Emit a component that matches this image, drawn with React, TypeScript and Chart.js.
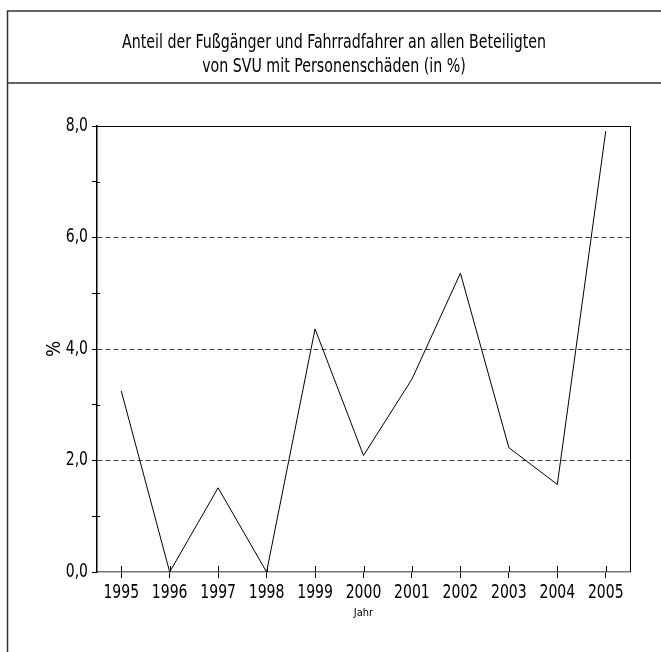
import React, { useEffect, useRef } from "react";
import { Chart, registerables } from "chart.js";

Chart.register(...registerables);

const years = ["1995", "1996", "1997", "1998", "1999", "2000", "2001", "2002", "2003", "2004", "2005"];
const shares = [3.25, 0.0, 1.51, 0.0, 4.36, 2.09, 3.46, 5.36, 2.23, 1.57, 7.91];
const titleLines = [
  "Anteil der Fußgänger und Fahrradfahrer an allen Beteiligten",
  "von SVU mit Personenschäden (in %)",
];
const xTitle = "Jahr";
const yTitle = "%";
const gridValues = [2, 4, 6];

const NARROW = '"DejaVu Sans Condensed", "Liberation Sans Narrow", sans-serif';
const LABEL_FONT = "19px " + NARROW;
const SQUEEZE = 0.82;

function squeezedText(ctx: any, text: string, x: number, y: number, align: string, sx: number) {
  ctx.save();
  ctx.translate(x, y);
  ctx.scale(sx, 1);
  ctx.textAlign = align;
  ctx.fillText(text, 0, 0);
  ctx.restore();
}

const framePlugin = {
  id: "frame",
  beforeDraw(chart: any) {
    const ctx = chart.ctx;
    const w = chart.width;
    const h = chart.height;
    ctx.save();
    ctx.fillStyle = "#fff";
    ctx.fillRect(0, 0, w, h);
    ctx.strokeStyle = "#333";
    ctx.lineWidth = 1.5;
    ctx.beginPath();
    ctx.moveTo(7.5, h);
    ctx.lineTo(7.5, 11);
    ctx.lineTo(w, 11);
    ctx.moveTo(7.5, 83);
    ctx.lineTo(w, 83);
    ctx.stroke();
    ctx.fillStyle = "#000";
    ctx.textBaseline = "middle";
    ctx.font = "19px " + NARROW;
    const sx = 424 / ctx.measureText(titleLines[0]).width;
    squeezedText(ctx, titleLines[0], 334, 43.5, "center", sx);
    squeezedText(ctx, titleLines[1], 334, 67.5, "center", sx);
    ctx.restore();
  },
  afterDraw(chart: any) {
    const { ctx, chartArea } = chart;
    const xs = chart.scales.x;
    const ys = chart.scales.y;
    ctx.save();
    ctx.strokeStyle = "#000";
    ctx.lineWidth = 1;
    ctx.beginPath();
    ctx.moveTo(chartArea.left, chartArea.top + 0.5);
    ctx.lineTo(chartArea.right + 0.5, chartArea.top + 0.5);
    ctx.lineTo(chartArea.right + 0.5, chartArea.bottom);
    xs.ticks.forEach((_t: any, i: number) => {
      const px = Math.round(xs.getPixelForTick(i)) + 0.5;
      ctx.moveTo(px, chartArea.bottom);
      ctx.lineTo(px, chartArea.bottom - 6);
    });
    ys.ticks.forEach((t: any, i: number) => {
      if (t.value % 2 !== 0) {
        const py = Math.round(ys.getPixelForTick(i)) + 0.5;
        ctx.moveTo(chartArea.left, py);
        ctx.lineTo(chartArea.left + 3, py);
      }
    });
    ctx.stroke();
    // tick labels, condensed
    ctx.fillStyle = "#000";
    ctx.font = LABEL_FONT;
    ctx.textBaseline = "middle";
    xs.ticks.forEach((_t: any, i: number) => {
      const px = xs.getPixelForTick(i);
      squeezedText(ctx, String(xs.getLabelForValue(i)), px, chartArea.bottom + 21, "center", SQUEEZE);
    });
    ys.ticks.forEach((t: any, i: number) => {
      if (t.label) {
        const py = ys.getPixelForTick(i);
        squeezedText(ctx, String(t.label), chartArea.left - 9, py, "right", SQUEEZE);
      }
    });
    ctx.restore();
  },
};

export default function App() {
  const ref = useRef<HTMLCanvasElement>(null);
  useEffect(() => {
    if (!ref.current) return;
    const chart = new Chart(ref.current, {
      type: "line",
      data: {
        labels: years,
        datasets: [
          {
            data: shares,
            borderColor: "#000",
            borderWidth: 1,
            pointRadius: 0,
            tension: 0,
            fill: false,
          },
        ],
      },
      options: {
        animation: false,
        responsive: false,
        maintainAspectRatio: false,
        layout: { padding: { top: 126, right: 31, left: 0, bottom: 0 } },
        plugins: { legend: { display: false }, title: { display: false }, tooltip: { enabled: false } },
        scales: {
          x: {
            type: "category",
            offset: true,
            afterFit: (s: any) => {
              s.height = 80;
            },
            grid: {
              drawOnChartArea: false,
              drawTicks: true,
              tickLength: 6,
              tickColor: "#000",
              offset: false,
            },
            border: { display: true, color: "#777", width: 1.5 },
            ticks: {
              color: "rgba(0,0,0,0)",
              font: { family: NARROW, size: 16.5 },
              padding: 3,
              maxRotation: 0,
              autoSkip: false,
            },
            title: {
              display: true,
              text: xTitle,
              color: "#000",
              font: { family: NARROW, size: 11 },
              padding: { top: 0, bottom: 32 },
            },
          },
          y: {
            min: 0,
            max: 8,
            afterFit: (s: any) => {
              s.width = 97;
            },
            ticks: {
              stepSize: 1,
              color: "rgba(0,0,0,0)",
              font: { family: NARROW, size: 17 },
              padding: 4,
              callback: (v: any) => (Number(v) % 2 === 0 ? Number(v).toFixed(1).replace(".", ",") : ""),
            },
            grid: {
              drawTicks: true,
              tickLength: 5,
              tickColor: "#000",
              color: (c: any) => (c.tick && gridValues.includes(c.tick.value) ? "#444" : "rgba(0,0,0,0)"),
              lineWidth: 1,
            },
            border: { display: true, color: "#000", width: 1.5, dash: [5, 3] },
            title: {
              display: true,
              text: yTitle,
              color: "#000",
              font: { family: NARROW, size: 19 },
              padding: { top: 44, bottom: 0 },
            },
          },
        },
      },
      plugins: [framePlugin],
    });
    return () => chart.destroy();
  }, []);
  return (
    <div style={{ position: "absolute", left: 0, top: 0, width: 661, height: 652, background: "#fff" }}>
      <canvas ref={ref} width={661} height={652} style={{ display: "block", width: 661, height: 652 }} />
    </div>
  );
}
